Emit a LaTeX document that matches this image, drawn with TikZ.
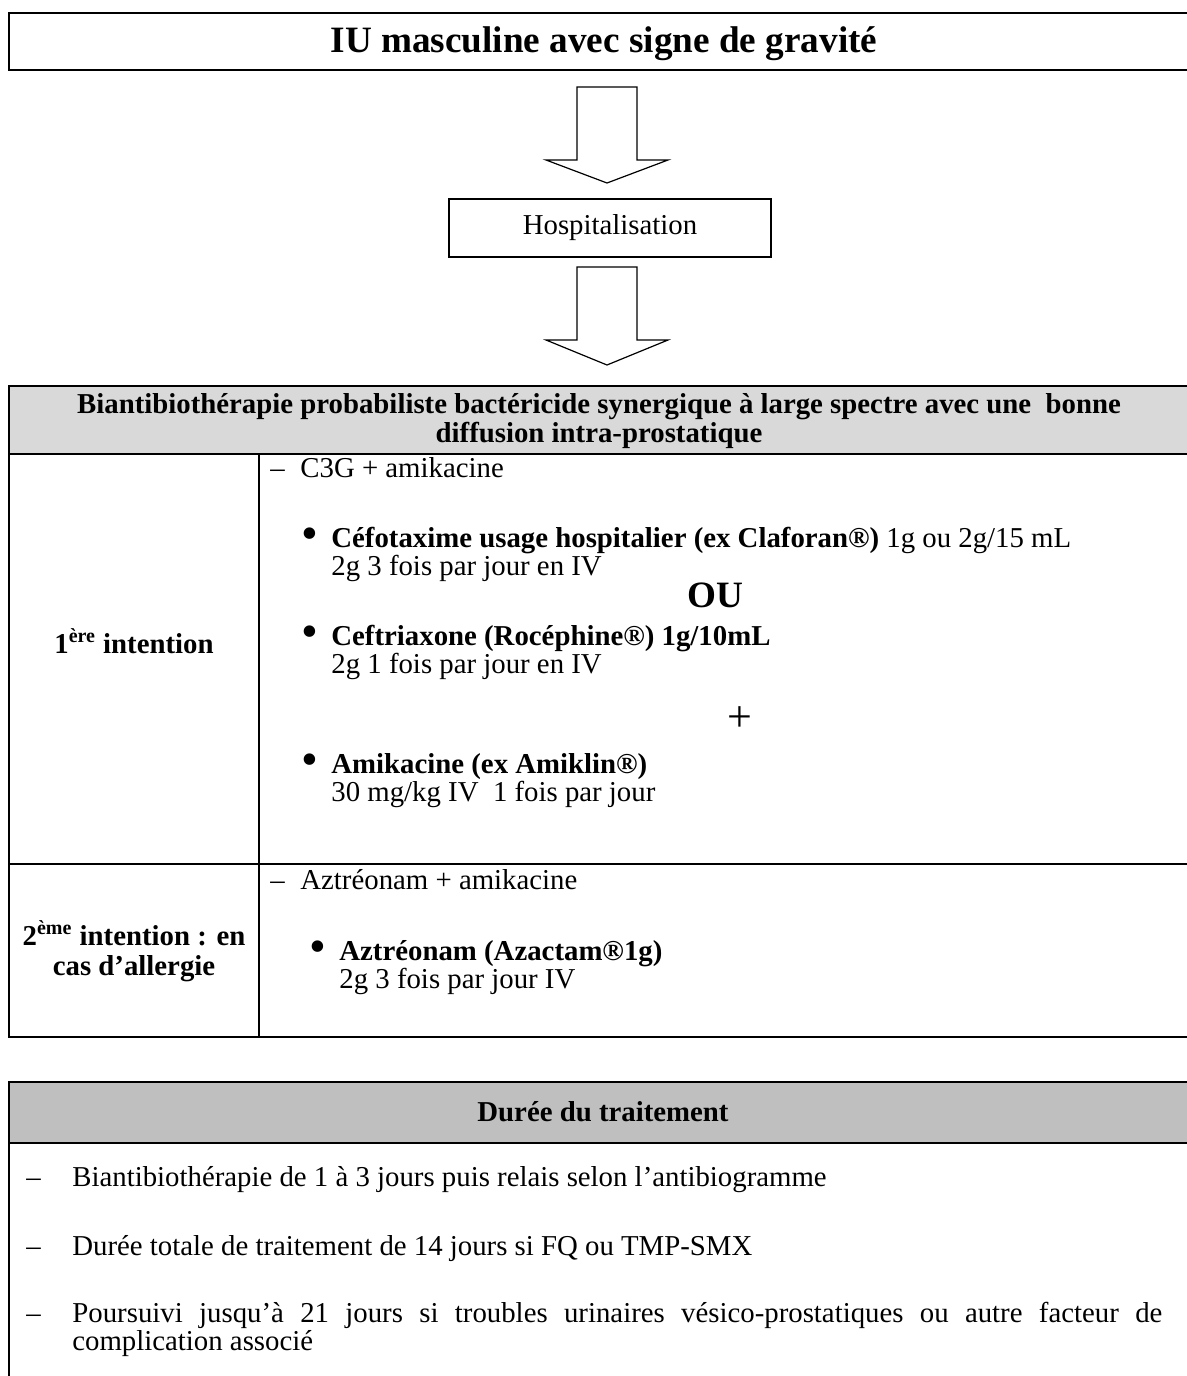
\documentclass[tikz,border=0pt]{standalone}
\usepackage{fontspec}
\setmainfont{Liberation Serif}
\begin{document}
\begin{tikzpicture}[x=0.5pt,y=-0.5pt,
  frame/.style={line width=1pt},
  blockarrow/.style={line width=0.6pt, line join=miter},
  body/.style={inner sep=0pt, anchor=base west, font=\fontsize{14.4}{14}\selectfont},
  bodyb/.style={body, font=\bfseries\fontsize{14.4}{14}\selectfont},
  centred/.style={inner sep=0pt, anchor=base, font=\bfseries\fontsize{14.4}{14.5}\selectfont},
  bul/.style={inner sep=0pt, anchor=center, font=\fontsize{24}{24}\selectfont}]
\useasboundingbox (0,0) rectangle (1187,1376);
\clip (0,0) rectangle (1187,1376);
\fill[white] (0,0) rectangle (1187,1376);

% title
\draw[frame] (9,13) rectangle (1220,70);
\node[inner sep=0pt, anchor=base, font=\bfseries\fontsize{18.6}{19}\selectfont] (title) at (604,52) {IU masculine avec signe de gravité};

% block arrows
\coordinate (a1) at (607,87);
\draw[blockarrow] (a1) ++(-30,0) -- ++(0,73) -- ++(-31,0) -- ++(61,23) -- ++(61,-23) -- ++(-31,0) -- ++(0,-73) -- cycle;
\node[draw, line width=0.8pt, minimum width=161pt, minimum height=29pt, inner sep=0pt, font=\fontsize{14.4}{14}\selectfont] (hosp) at (610,228) {Hospitalisation};
\coordinate (a2) at (607,267);
\draw[blockarrow] (a2) ++(-30,0) -- ++(0,73) -- ++(-31,0) -- ++(61,25) -- ++(61,-25) -- ++(-31,0) -- ++(0,-73) -- cycle;

% table 1
\fill[gray!30] (9,386) rectangle (1220,454);
\draw[frame] (1220,386) -- (9,386) -- (9,1037) -- (1220,1037);
\draw[frame] (9,454) -- (1220,454);
\draw[frame] (9,864) -- (1220,864);
\draw[frame] (259,454) -- (259,1037);
\node[centred] (h1a) at (599,413) {Biantibiothérapie probabiliste bactéricide synergique à large spectre avec une\ \ bonne};
\node[centred] (h1b) at (599,442) {diffusion intra-prostatique};

\node[centred] (l1) at (134,653) {1\textsuperscript{ère} intention};
\node[centred] (l2a) at (134,945) {2\textsuperscript{ème} intention : en};
\node[centred] (l2b) at (134,975) {cas d’allergie};

\node[body] (d1) at (270,477) {–};
\node[body] (t1) at (300,477) {C3G + amikacine};
\node[bul] (b1) at (310,539) {•};
\node[body] (t2) at (331,547) {\textbf{Céfotaxime usage hospitalier (ex Claforan®)} 1g ou 2g/15 mL};
\node[body] (t3) at (331,575) {2g 3 fois par jour en IV};
\node[inner sep=0pt, anchor=base, font=\bfseries\fontsize{18.6}{19}\selectfont] (ou) at (715,607) {OU};
\node[bul] (b2) at (310,637) {•};
\node[bodyb] (t4) at (331,645) {Ceftriaxone (Rocéphine®) 1g/10mL};
\node[body] (t5) at (331,673) {2g 1 fois par jour en IV};
\node[inner sep=0pt, anchor=base, font=\fontsize{22}{22}\selectfont] (plus) at (740,731) {+};
\node[bul] (b3) at (310,765) {•};
\node[bodyb] (t6) at (331,773) {Amikacine (ex Amiklin®)};
\node[body] (t7) at (331,801) {30 mg/kg IV\ \ 1 fois par jour};

\node[body] (d2) at (270,889) {–};
\node[body] (t8) at (300,889) {Aztréonam + amikacine};
\node[bul] (b4) at (318,952) {•};
\node[bodyb] (t9) at (339,960) {Aztréonam (Azactam®1g)};
\node[body] (t10) at (339,988) {2g 3 fois par jour IV};

% table 2
\fill[gray!50] (9,1082) rectangle (1220,1143);
\draw[frame] (1220,1082) -- (9,1082) -- (9,1400);
\draw[frame] (9,1143) -- (1220,1143);
\node[centred] (h2) at (603,1121) {Durée du traitement};
\node[body] (e1) at (26,1186) {–};
\node[body] (u1) at (72,1186) {Biantibiothérapie de 1 à 3 jours puis relais selon l’antibiogramme};
\node[body] (e2) at (26,1255) {–};
\node[body] (u2) at (72,1255) {Durée totale de traitement de 14 jours si FQ ou TMP-SMX};
\node[body] (e3) at (26,1322) {–};
\node[body, anchor=base west, text width=545pt, align=justify] (u3) at (72,1322) {Poursuivi jusqu’à 21 jours si troubles urinaires vésico-prostatiques ou autre facteur de\linebreak complication associé};
\end{tikzpicture}
\end{document}
